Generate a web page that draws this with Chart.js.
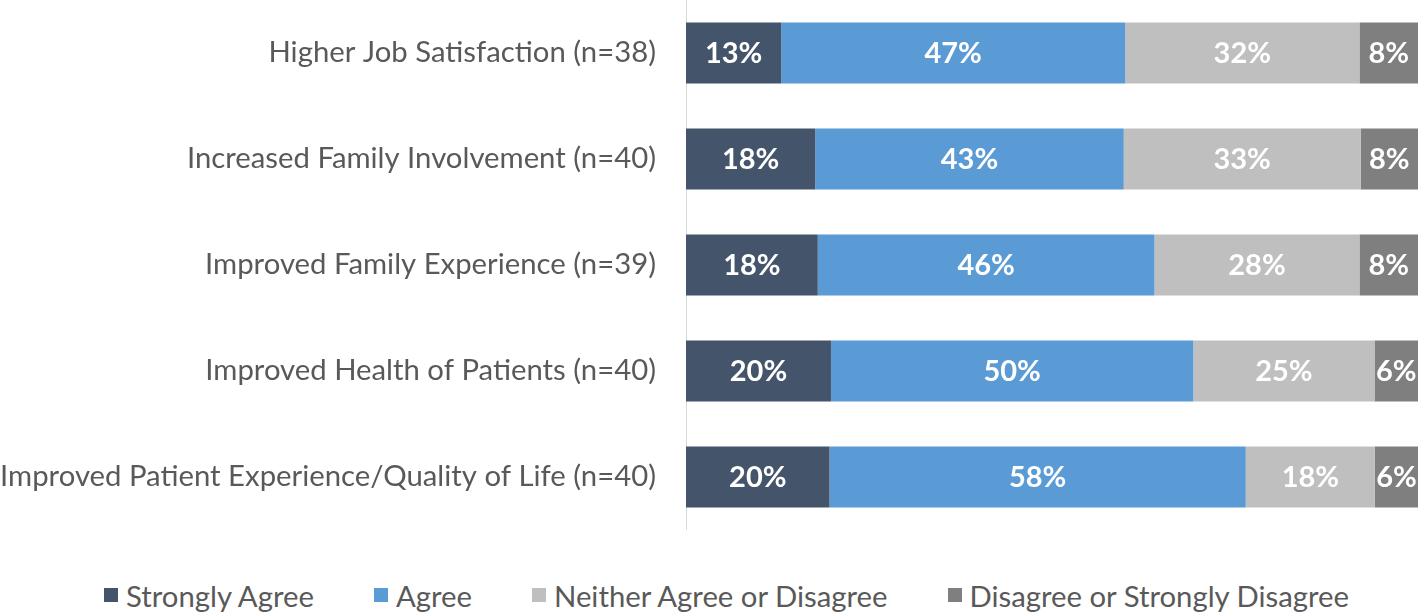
<!DOCTYPE html>
<html lang="en">
<head>
  <meta charset="UTF-8" />
  <title>Perceived Benefits</title>
  <script src="https://cdn.jsdelivr.net/npm/chart.js"></script>
  <style>
    body {
      margin: 0;
      background: #ffffff;
      font-family: 'Lato', sans-serif;
    }

    #wrap {
      position: relative;
      width: 1418px;
      height: 530px;
    }

    #legend {
      position: absolute;
      left: 104px;
      top: 578px;
      height: 34px;
      display: flex;
      align-items: center;
      gap: 60px;
      color: #595959;
      font-size: 29.3px;
      white-space: nowrap;
    }

    .item {
      display: flex;
      align-items: center;
      gap: 8px;
    }

    .swatch {
      width: 14px;
      height: 14px;
    }
  </style>
</head>
<body>
  <div id="wrap"><canvas id="chart"></canvas></div>
  <div id="legend"></div>

  <script>
    const categories = [
      'Higher Job Satisfaction (n=38)',
      'Increased Family Involvement (n=40)',
      'Improved Family Experience (n=39)',
      'Improved Health of Patients (n=40)',
      'Improved Patient Experience/Quality of Life (n=40)'
    ];
    const seriesNames = ['Strongly Agree', 'Agree', 'Neither Agree or Disagree', 'Disagree or Strongly Disagree'];
    const colors = ['#44546A', '#5B9BD5', '#BFBFBF', '#7F7F7F'];

    // percentages as printed on the bars
    const stronglyAgree = [13, 18, 18, 20, 20];
    const agree = [47, 43, 46, 50, 58];
    const neither = [32, 33, 28, 25, 18];
    const disagree = [8, 8, 8, 6, 6];

    const raw = [stronglyAgree, agree, neither, disagree];

    // 100% stacked: each row is scaled to its own total
    const totals = categories.map((_, i) => raw.reduce((s, arr) => s + arr[i], 0));

    const barLabels = {
      id: 'barLabels',
      afterDatasetsDraw(chart) {
        const ctx = chart.ctx;
        ctx.save();
        ctx.font = 'bold 29px Lato, sans-serif';
        ctx.fillStyle = '#ffffff';
        ctx.textAlign = 'center';
        ctx.textBaseline = 'middle';
        chart.data.datasets.forEach((ds, di) => {
          chart.getDatasetMeta(di).data.forEach((bar, i) => {
            const p = bar.getProps(['x', 'y', 'base'], true);
            ctx.fillText(ds.rawValues[i] + '%', (p.x + p.base) / 2, p.y + 1);
          });
        });
        ctx.restore();
      }
    };

    const ctx = document.getElementById('chart').getContext('2d');
    const chart = new Chart(ctx, {
      type: 'bar',
      data: {
        labels: categories,
        datasets: raw.map((arr, k) => ({
          label: seriesNames[k],
          data: arr.map((v, i) => v / totals[i] * 100),
          rawValues: arr,
          backgroundColor: colors[k],
          borderWidth: 0,
          barPercentage: 0.575,
          categoryPercentage: 1
        }))
      },
      options: {
        indexAxis: 'y',
        responsive: true,
        maintainAspectRatio: false,
        animation: false,
        layout: { padding: 0 },
        plugins: {
          legend: { display: false },
          tooltip: { enabled: false }
        },
        scales: {
          x: {
            stacked: true,
            min: 0,
            max: 100,
            display: false
          },
          y: {
            stacked: true,
            grid: { display: false },
            border: { display: true, color: '#D9D9D9', width: 1 },
            ticks: {
              color: '#595959',
              font: { family: 'Lato', size: 29.3 },
              padding: 22
            },
            afterFit(scale) {
              scale.width = 686;
              scale.paddingTop = 0;
              scale.paddingBottom = 0;
            }
          }
        }
      },
      plugins: [barLabels]
    });

    const legend = document.getElementById('legend');
    seriesNames.forEach((name, k) => {
      const item = document.createElement('div');
      item.className = 'item';
      item.innerHTML = '<span class="swatch" style="background:' + colors[k] + '"></span><span>' + name + '</span>';
      legend.appendChild(item);
    });
  </script>
</body>
</html>
